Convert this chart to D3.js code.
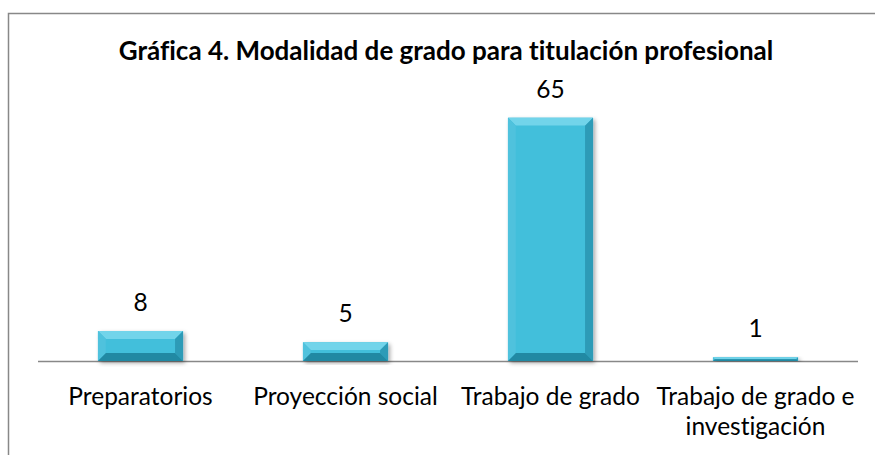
<!DOCTYPE html>
<html><head><meta charset="utf-8">
<script src="https://cdn.jsdelivr.net/npm/d3@7"></script>
<style>body{margin:0;background:#fff}svg{display:block}text{font-variant-ligatures:none;font-feature-settings:"liga" 0,"clig" 0,"dlig" 0}</style>
</head><body><div id="chart"></div>
<script>
const categories = [["Preparatorios"],["Proyección social"],["Trabajo de grado"],["Trabajo de grado e","investigación"]];
const categoryKeys = ["Preparatorios","Proyección social","Trabajo de grado","Trabajo de grado e investigación"];
const values = [8,5,65,1];
const title = "Gráfica 4. Modalidad de grado para titulación profesional";

const W=875,H=455;
const svg=d3.select("#chart").append("svg").attr("width",W).attr("height",H);
const FONT="Lato, 'Open Sans', sans-serif";

// border
svg.append("rect").attr("x",8.5).attr("y",13.5).attr("width",W).attr("height",H).attr("fill","none").attr("stroke","#888").attr("stroke-width",1.5);

const plot={left:38,right:858,top:99,bottom:361};
const x=d3.scaleBand().domain(categoryKeys).range([plot.left,plot.right]).paddingInner(0.585).paddingOuter(0.2925);
const y=d3.scaleLinear().domain([0,70]).range([plot.bottom,plot.top]);

const defs=svg.append("defs");
const f=defs.append("filter").attr("id","sh").attr("x","-20%").attr("y","-20%").attr("width","140%").attr("height","140%");
f.append("feDropShadow").attr("dx",2).attr("dy",2).attr("stdDeviation",2).attr("flood-color","#000").attr("flood-opacity",0.35);

// axis line
svg.append("line").attr("x1",plot.left).attr("x2",plot.right).attr("y1",plot.bottom+0.5).attr("y2",plot.bottom+0.5).attr("stroke","#888").attr("stroke-width",1.3);

const bars=svg.append("g").selectAll("g").data(values).join("g");
bars.each(function(v,i){
  const g=d3.select(this);
  const x0=x(categoryKeys[i]), w=x.bandwidth(), y0=y(v), y1=y(0), h=y1-y0;
  const b=Math.min(8,h/2, w/2);
  g.append("rect").attr("x",x0).attr("y",y0).attr("width",w).attr("height",h).attr("fill","#3cb9d6").attr("filter","url(#sh)");
  const P=(pts,c)=>g.append("polygon").attr("points",pts.map(p=>p.join(",")).join(" ")).attr("fill",c);
  P([[x0,y0],[x0+w,y0],[x0+w-b,y0+b],[x0+b,y0+b]],"#72d4ea");
  P([[x0,y0],[x0+b,y0+b],[x0+b,y1-b],[x0,y1]],"#4fc2dd");
  P([[x0+w,y0],[x0+w,y1],[x0+w-b,y1-b],[x0+w-b,y0+b]],"#2d9bb7");
  P([[x0,y1],[x0+b,y1-b],[x0+w-b,y1-b],[x0+w,y1]],"#2189a3");
  g.append("rect").attr("x",x0+b).attr("y",y0+b).attr("width",Math.max(0,w-2*b)).attr("height",Math.max(0,h-2*b)).attr("fill","#42bfdb");
  g.append("text").attr("x",x0+w/2).attr("y",y0-20).attr("text-anchor","middle")
    .attr("font-family",FONT).attr("font-size",24.5).attr("fill","#000").text(v);
});

// category labels
const cl=svg.append("g");
categories.forEach((lines,i)=>{
  const cx=x(categoryKeys[i])+x.bandwidth()/2;
  lines.forEach((t,j)=>{
    cl.append("text").attr("x",cx).attr("y",405+j*30).attr("text-anchor","middle")
      .attr("font-family",FONT).attr("font-size",24.5).attr("fill","#000").text(t);
  });
});

svg.append("text").attr("x",446).attr("y",60).attr("text-anchor","middle")
  .attr("font-family",FONT).attr("font-weight","bold").attr("font-size",26).attr("fill","#000").text(title);
</script></body></html>
